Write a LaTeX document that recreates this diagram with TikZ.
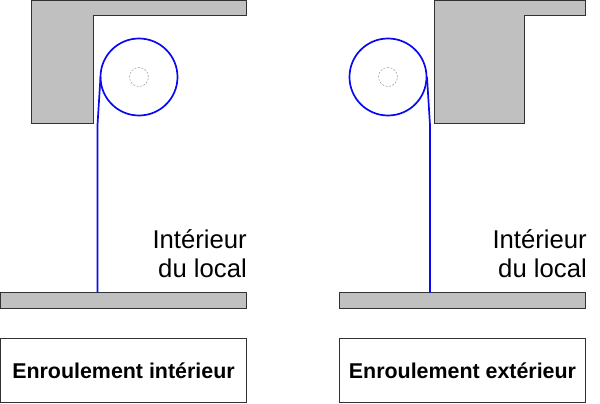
\documentclass[tikz,border=0pt]{standalone}
\usepackage{fontspec}
\setmainfont{Liberation Sans}
\definecolor{wallgray}{RGB}{192,192,192}
\definecolor{wallline}{RGB}{50,50,50}
\definecolor{beltblue}{RGB}{10,10,240}
\tikzset{x=1pt,y=-1pt,
 wall/.style={draw=wallline,fill=wallgray,line width=1pt},
 belt/.style={draw=beltblue,line width=1.7pt},
 axle/.style={draw=gray!80,dash pattern=on 2pt off 1.5pt,line width=0.5pt},
 lbl/.style={font=\fontsize{25.7}{29.5}\selectfont,align=right,anchor=north east,inner sep=0pt},
 title/.style={draw=wallline,fill=white,line width=1pt,outer sep=0pt,font=\bfseries\fontsize{21.4}{25}\selectfont,minimum width=246pt,minimum height=64pt,inner sep=0pt,anchor=north west}}
\begin{document}
\begin{tikzpicture}
\useasboundingbox (0,0) rectangle (600,404);
\draw[wall] (31.5,0.5) -- (31.5,123.5) -- (93,123.5) -- (93,16) -- (246.8,16) -- (246.8,0.5) -- cycle;
\draw[wall] (434.5,0.5) -- (434.5,123.5) -- (524,123.5) -- (524,16) -- (585.5,16) -- (585.5,0.5) -- cycle;
\draw[wall] (0.5,292.5) rectangle (246.8,308);
\draw[wall] (339.5,292.5) rectangle (585.5,308);
\draw[belt] (139,77) circle (38.5pt);
\draw[belt] (388,77) circle (38.5pt);
\draw[axle] (139,77) circle (9.5pt);
\draw[axle] (388,77) circle (9.5pt);
\draw[belt] (100.5,77) -- (97.5,125) -- (97.5,292.5);
\draw[belt] (427,77) -- (430,125) -- (430,292.5);
\node[lbl] (a) at (247,229) {Intérieur\\du local};
\node[lbl] (b) at (587,229) {Intérieur\\du local};
\node[title] (c) at (0.5,338.5) {Enroulement intérieur};
\node[title] (d) at (339.5,338.5) {Enroulement extérieur};
\end{tikzpicture}
\end{document}
